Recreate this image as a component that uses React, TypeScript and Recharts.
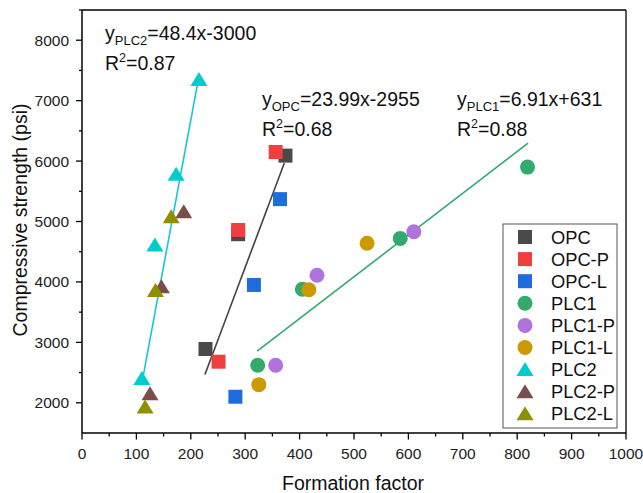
import React from 'react';
import { ScatterChart, Scatter, XAxis, YAxis, ReferenceLine } from 'recharts';

// formation factor (x) vs compressive strength in psi (y)
const opc = [{ x: 227, y: 2890 }, { x: 287, y: 4790 }, { x: 374, y: 6090 }];
const opcP = [{ x: 251, y: 2680 }, { x: 287, y: 4860 }, { x: 356, y: 6150 }];
const opcL = [{ x: 282, y: 2100 }, { x: 316, y: 3950 }, { x: 364, y: 5370 }];
const plc1 = [{ x: 323, y: 2620 }, { x: 405, y: 3880 }, { x: 585, y: 4720 }, { x: 819, y: 5900 }];
const plc1P = [{ x: 356, y: 2620 }, { x: 432, y: 4110 }, { x: 610, y: 4830 }];
const plc1L = [{ x: 325, y: 2300 }, { x: 417, y: 3870 }, { x: 524, y: 4640 }];
const plc2 = [{ x: 110, y: 2400 }, { x: 134, y: 4610 }, { x: 173, y: 5780 }, { x: 215, y: 7350 }];
const plc2P = [{ x: 125, y: 2150 }, { x: 146, y: 3920 }, { x: 187, y: 5160 }];
const plc2L = [{ x: 116, y: 1930 }, { x: 135, y: 3860 }, { x: 164, y: 5080 }];

// end points of the fitted lines
const fitPlc2 = [{ x: 112, y: 2420 }, { x: 215, y: 7406 }];
const fitOpc = [{ x: 226, y: 2467 }, { x: 372, y: 5969 }];
const fitPlc1 = [{ x: 322, y: 2856 }, { x: 820, y: 6297 }];

const xTicks = [0, 50, 100, 150, 200, 250, 300, 350, 400, 450, 500, 550, 600, 650, 700, 750, 800, 850, 900, 950, 1000];
const yTicks = [2000, 2500, 3000, 3500, 4000, 4500, 5000, 5500, 6000, 6500, 7000, 7500, 8000, 8500];

type Kind = 'square' | 'circle' | 'triangle';

const series: { name: string; data: { x: number; y: number }[]; color: string; kind: Kind }[] = [
  { name: 'OPC', data: opc, color: '#4a4a4a', kind: 'square' },
  { name: 'OPC-P', data: opcP, color: '#ef3f3f', kind: 'square' },
  { name: 'OPC-L', data: opcL, color: '#1f6ddc', kind: 'square' },
  { name: 'PLC1', data: plc1, color: '#33a96b', kind: 'circle' },
  { name: 'PLC1-P', data: plc1P, color: '#b073dc', kind: 'circle' },
  { name: 'PLC1-L', data: plc1L, color: '#cc9900', kind: 'circle' },
  { name: 'PLC2', data: plc2, color: '#00cccc', kind: 'triangle' },
  { name: 'PLC2-P', data: plc2P, color: '#7b4d4d', kind: 'triangle' },
  { name: 'PLC2-L', data: plc2L, color: '#8f8f00', kind: 'triangle' },
];

// draw order in the figure: purple circles sit under the green ones
const drawOrder = ['OPC', 'OPC-P', 'OPC-L', 'PLC1-P', 'PLC1', 'PLC1-L', 'PLC2', 'PLC2-P', 'PLC2-L'];

const FONT = '"Liberation Sans", Arial, sans-serif';

function marker(kind: Kind, color: string, cx: number, cy: number) {
  if (kind === 'square') return <rect x={cx - 7} y={cy - 7} width={14} height={14} fill={color} />;
  if (kind === 'circle') return <circle cx={cx} cy={cy} r={7.5} fill={color} />;
  return <path d={`M${cx},${cy - 7.5}L${cx + 8.5},${cy + 6.5}L${cx - 8.5},${cy + 6.5}Z`} fill={color} />;
}

const XTick = (props: any) => {
  const { x, y, payload } = props;
  const major = payload.value % 100 === 0;
  return (
    <g>
      <line x1={x} x2={x} y1={y} y2={y + (major ? 6.5 : 3.5)} stroke="#000" strokeWidth={1.3} />
      {major && (
        <text x={x} y={y + 26} textAnchor="middle" fontSize={15.5} fill="#222" fontFamily={FONT}>
          {payload.value}
        </text>
      )}
    </g>
  );
};

const YTick = (props: any) => {
  const { x, y, payload } = props;
  const major = payload.value % 1000 === 0;
  return (
    <g>
      <line x1={x - (major ? 6 : 3)} x2={x} y1={y} y2={y} stroke="#000" strokeWidth={1.3} />
      {major && (
        <text x={x - 13} y={y + 5.5} textAnchor="end" fontSize={15.5} fill="#222" fontFamily={FONT}>
          {payload.value}
        </text>
      )}
    </g>
  );
};

function Equation({ x, y, sub, rest, r2 }: { x: number; y: number; sub: string; rest: string; r2: string }) {
  return (
    <g fontFamily={FONT} fill="#111">
      <text x={x} y={y} fontSize={19.5}>
        y<tspan fontSize={13} dy={5}>{sub}</tspan>
        <tspan dy={-5}>{rest}</tspan>
      </text>
      <text x={x} y={y + 29.5} fontSize={19.5}>
        R<tspan fontSize={12.5} dy={-8}>2</tspan>
        <tspan dy={8}>{r2}</tspan>
      </text>
    </g>
  );
}

export default function App() {
  return (
    <div style={{ position: 'absolute', left: 0, top: 0, width: 643, height: 493, background: '#fff' }}>
      <ScatterChart width={643} height={493} margin={{ top: 10, right: 17, bottom: 0, left: 0 }}>
        <XAxis
          type="number"
          dataKey="x"
          domain={[0, 1000]}
          ticks={xTicks}
          interval={0}
          height={60}
          tickSize={0}
          tickMargin={0}
          tickLine={false}
          tick={<XTick />}
          axisLine={{ stroke: '#000', strokeWidth: 1.5 }}
        />
        <YAxis
          type="number"
          dataKey="y"
          domain={[1500, 8500]}
          ticks={yTicks}
          interval={0}
          width={82}
          tickSize={0}
          tickMargin={0}
          tickLine={false}
          tick={<YTick />}
          axisLine={{ stroke: '#000', strokeWidth: 1.5 }}
        />
        <ReferenceLine y={8500} stroke="#000" strokeWidth={1.3} />
        <ReferenceLine x={1000} stroke="#000" strokeWidth={1.3} />
        {drawOrder.map((n) => {
          const s = series.find((d) => d.name === n)!;
          return (
            <Scatter
              key={s.name}
              name={s.name}
              data={s.data}
              fill={s.color}
              isAnimationActive={false}
              shape={(p: any) => marker(s.kind, s.color, p.cx, p.cy)}
            />
          );
        })}
        <ReferenceLine segment={fitPlc2} stroke="#18c6cf" strokeWidth={1.6} />
        <ReferenceLine segment={fitOpc} stroke="#444" strokeWidth={1.6} />
        <ReferenceLine segment={fitPlc1} stroke="#33a96b" strokeWidth={1.6} />
      </ScatterChart>
      <svg
        width={643}
        height={493}
        style={{ position: 'absolute', left: 0, top: 0, pointerEvents: 'none' }}
      >
        <Equation x={105} y={40} sub="PLC2" rest="=48.4x-3000" r2="=0.87" />
        <Equation x={262} y={106} sub="OPC" rest="=23.99x-2955" r2="=0.68" />
        <Equation x={457} y={106} sub="PLC1" rest="=6.91x+631" r2="=0.88" />
        <text x={353} y={490} textAnchor="middle" fontSize={19.5} fill="#111" fontFamily={FONT}>
          Formation factor
        </text>
        <text
          x={0}
          y={0}
          transform="translate(27,220) rotate(-90)"
          textAnchor="middle"
          fontSize={19.5}
          fill="#111"
          fontFamily={FONT}
        >
          Compressive strength (psi)
        </text>
        <rect x={503} y={224} width={114} height={204} fill="#fff" stroke="#555" strokeWidth={1} />
        {series.map((s, i) => {
          const cy = 237 + i * 22.1;
          return (
            <g key={s.name}>
              {marker(s.kind, s.color, 525, cy)}
              <text x={551} y={cy + 6.5} fontSize={18.3} fill="#111" fontFamily={FONT}>
                {s.name}
              </text>
            </g>
          );
        })}
      </svg>
    </div>
  );
}
